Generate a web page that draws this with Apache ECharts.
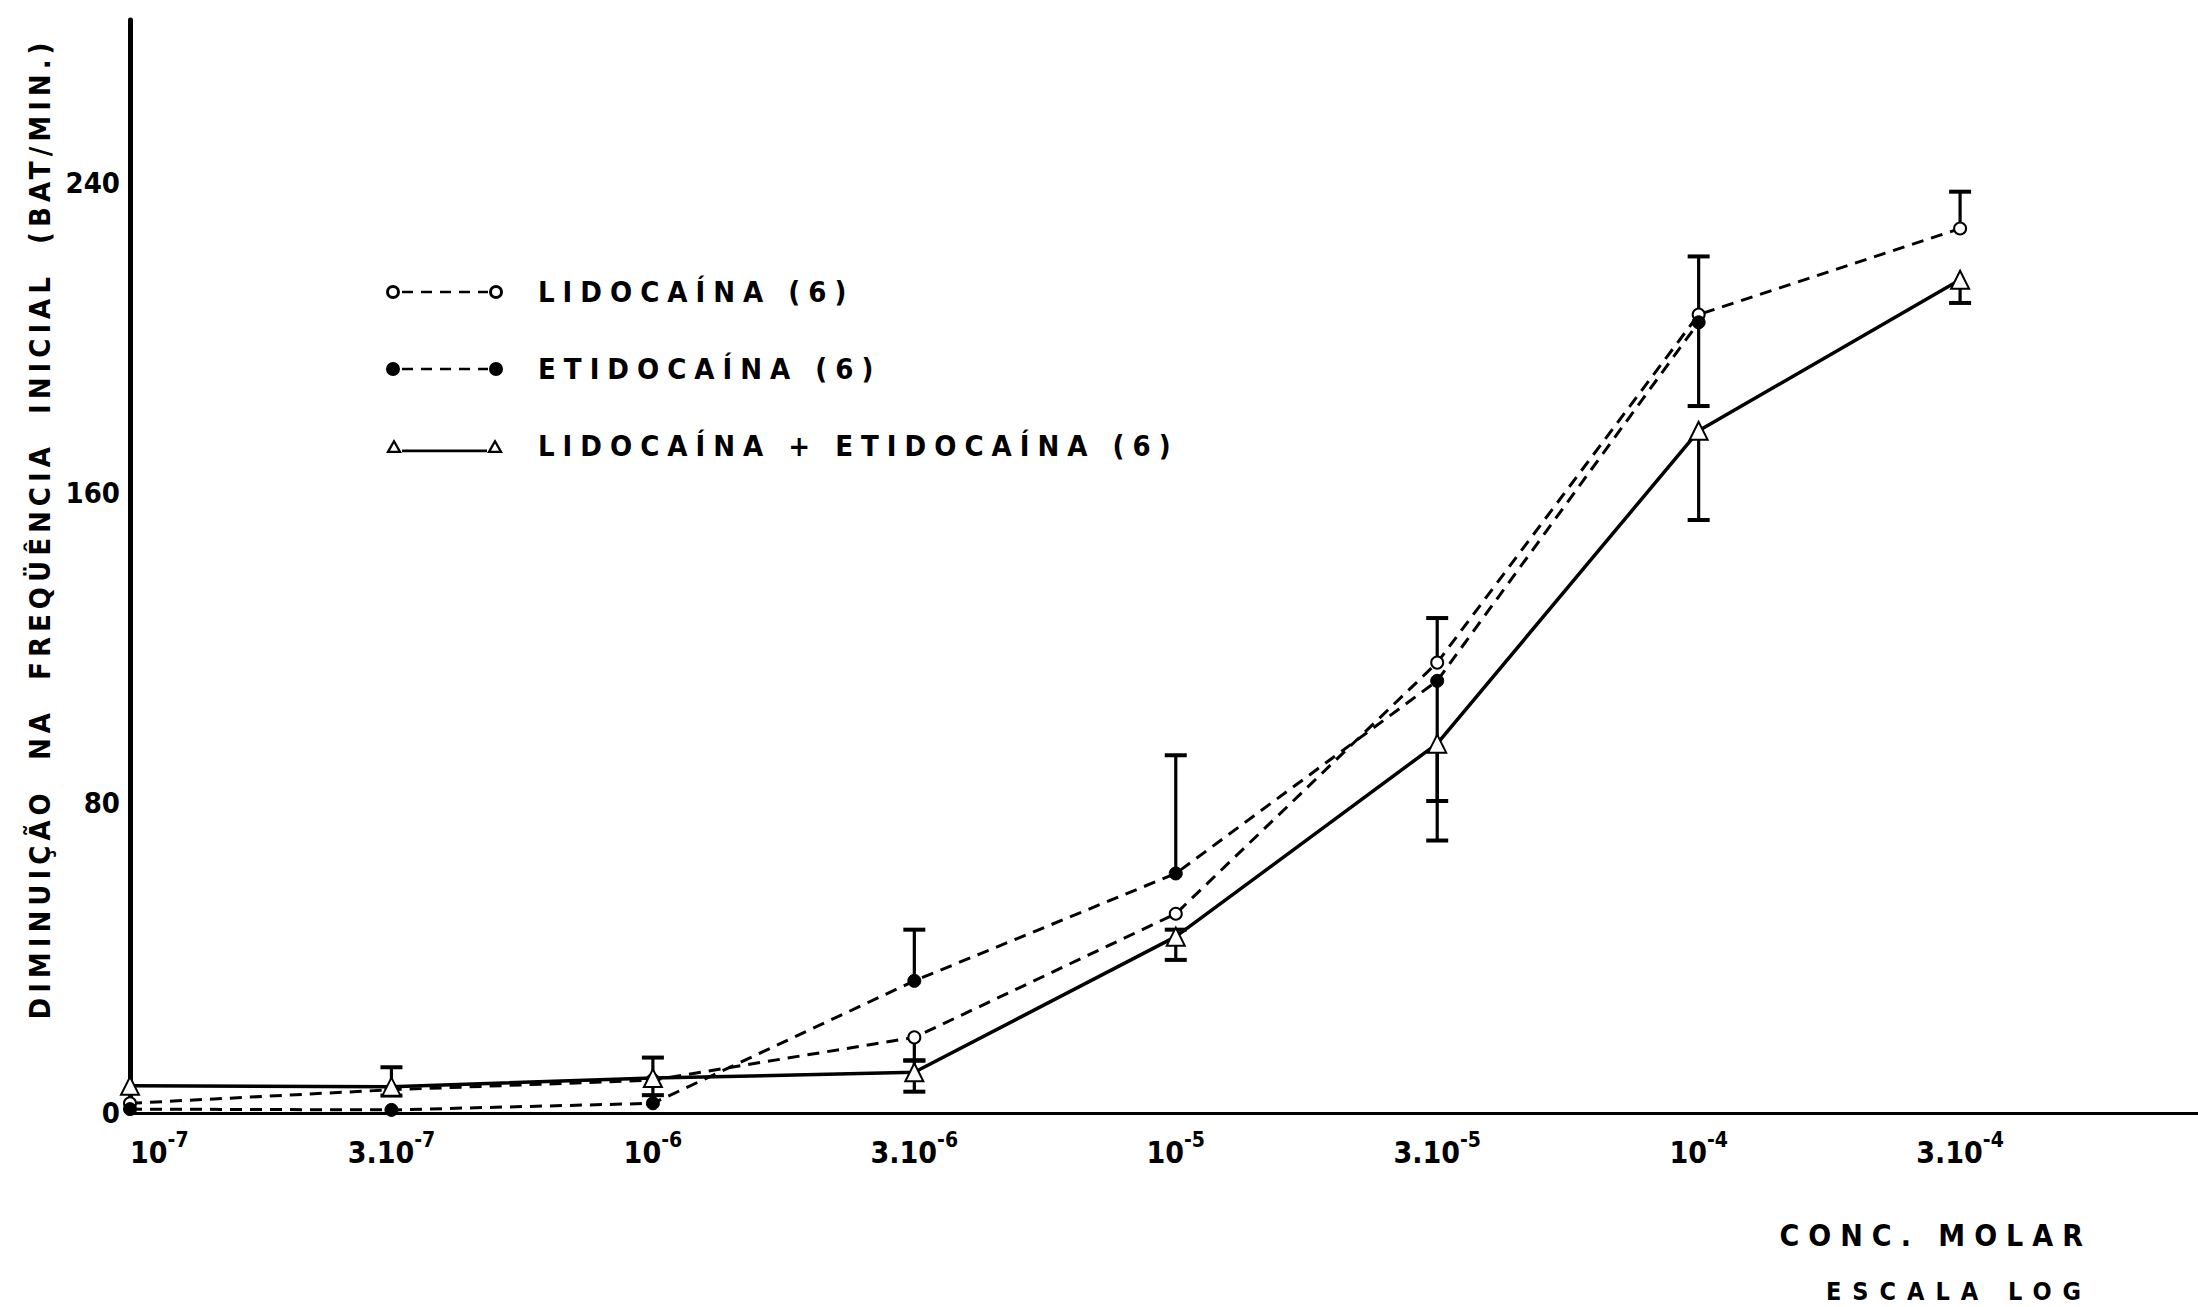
<!DOCTYPE html>
<html>
<head>
<meta charset="utf-8">
<script src="https://cdn.jsdelivr.net/npm/echarts@6/dist/echarts.min.js"></script>
<style>
html,body{margin:0;padding:0;background:#fff;}
#chart{width:2198px;height:1307px;}
</style>
</head>
<body>
<div id="chart"></div>
<script>
// ---- data ----
const tickBase = ['10', '3.10', '10', '3.10', '10', '3.10', '10', '3.10'];
const tickExp  = ['-7', '-7', '-6', '-6', '-5', '-5', '-4', '-4'];
const concIndex = [0, 1, 2, 3, 4, 5, 6, 7];   // half-decade steps on the log scale
const yTicks = [0, 80, 160, 240];

const seriesNames = ['LIDOCAÍNA (6)', 'ETIDOCAÍNA (6)', 'LIDOCAÍNA + ETIDOCAÍNA (6)'];
const lidocaina  = [2.5, 6, 8.5, 19.5, 51.4, 116.2, 206, 228.2];
const etidocaina = [1, 0.8, 2.5, 34.1, 61.8, 111.5, 204, null];
const combinacao = [7, 6.8, 9, 10.5, 45.5, 95.3, 176, 215];

// error bars (upward / downward extent) as drawn
const lidoErrUp    = [0, 0, 0, 0, 0, 11.5, 15, 9.5];
const lidoErrDown  = [0, 0, 0, 6, 0, 0, 0, 0];
const etidoErrUp   = [0, 0, 0, 13.2, 30.5, 0, 0, 0];
const etidoErrDown = [0, 0, 0, 0, 0, 31, 21.6, 0];
const comboErrUp   = [0, 5, 5.3, 3.1, 1.8, 0, 0, 0];
const comboErrDown = [0, 2.3, 4.4, 5, 6, 25, 23, 6];

// ---- build ----
const FONT = "'DejaVu Sans Condensed', 'DejaVu Sans', sans-serif";

function pts(vals) {
  return vals.map((v, i) => v == null ? null : [concIndex[i], v]).filter(d => d);
}
function bars(vals, up, down) {
  const out = [];
  vals.forEach((v, i) => {
    if (v == null) return;
    if (up[i] || down[i]) out.push([concIndex[i], v - down[i], v + up[i], up[i] > 0 ? 1 : 0, down[i] > 0 ? 1 : 0]);
  });
  return out;
}
function errorItem(params, api) {
  const x = api.value(0), lo = api.value(1), hi = api.value(2);
  const capTop = api.value(3), capBot = api.value(4);
  const pLo = api.coord([x, lo]), pHi = api.coord([x, hi]);
  const w = 11;
  const ch = [{ type: 'line', shape: { x1: pLo[0], y1: pLo[1], x2: pHi[0], y2: pHi[1] }, style: { stroke: '#000', lineWidth: 3.2 } }];
  if (capTop) ch.push({ type: 'line', shape: { x1: pHi[0] - w, y1: pHi[1], x2: pHi[0] + w, y2: pHi[1] }, style: { stroke: '#000', lineWidth: 4 } });
  if (capBot) ch.push({ type: 'line', shape: { x1: pLo[0] - w, y1: pLo[1], x2: pLo[0] + w, y2: pLo[1] }, style: { stroke: '#000', lineWidth: 4 } });
  return { type: 'group', children: ch };
}
function errSeries(vals, up, down) {
  return {
    type: 'custom', renderItem: errorItem, data: bars(vals, up, down),
    encode: { x: 0, y: [1, 2] }, z: 1, silent: true, animation: false
  };
}

// legend keys drawn like the original: marker - line - marker
const dashes = 'M16,5.8H27V8.2H16Z M35,5.8H46V8.2H35Z M54,5.8H65V8.2H54Z M73,5.8H84V8.2H73Z M92,5.8H102V8.2H92Z';
const iconLido = 'path://M0,7A7,7 0 1,1 14,7A7,7 0 1,1 0,7Z M3,7A4,4 0 1,0 11,7A4,4 0 1,0 3,7Z ' +
  'M103,7A7,7 0 1,1 117,7A7,7 0 1,1 103,7Z M106,7A4,4 0 1,0 114,7A4,4 0 1,0 106,7Z ' + dashes;
const iconEtido = 'path://M0,7A7,7 0 1,1 14,7A7,7 0 1,1 0,7Z M103,7A7,7 0 1,1 117,7A7,7 0 1,1 103,7Z ' + dashes;
const iconCombo = 'path://M0,14L8,0L16,14Z M4,11.8L12,11.8L8,4.6Z M101,14L109,0L117,14Z M105,11.8L113,11.8L109,4.6Z M16,10.6H101V13.2H16Z';

const dashed = [12, 8];
const chart = echarts.init(document.getElementById('chart'), null, { renderer: 'svg' });
const option = {
  animation: false,
  backgroundColor: '#fff',
  grid: { left: 130, right: 0, top: 20, bottom: 194, outerBoundsMode: 'none' },
  legend: {
    orient: 'vertical', left: 381, top: 272,
    itemWidth: 117, itemHeight: 14, itemGap: 47,
    itemStyle: { borderWidth: 0 },
    data: [
      { name: seriesNames[0], icon: iconLido },
      { name: seriesNames[1], icon: iconEtido },
      { name: seriesNames[2], icon: iconCombo }
    ],
    textStyle: { fontFamily: FONT, fontWeight: 'bold', fontSize: 29, color: '#000', lineHeight: 30, padding: [0, 0, 0, 30] }
  },
  xAxis: {
    type: 'value', min: 0, max: 7.91, interval: 1,
    splitLine: { show: false },
    axisTick: { show: false },
    axisLine: { show: true, onZero: false, lineStyle: { color: '#000', width: 3 } },
    axisLabel: {
      margin: 16, align: 'center', alignMinLabel: 'left',
      formatter: v => (Number.isInteger(v) && v >= 0 && v < tickBase.length) ? '{b|' + tickBase[v] + '}{e|' + tickExp[v] + '}' : '',
      rich: {
        b: { fontFamily: FONT, fontWeight: 'bold', fontSize: 30, color: '#000', lineHeight: 38, verticalAlign: 'bottom' },
        e: { fontFamily: FONT, fontWeight: 'bold', fontSize: 21, color: '#000', lineHeight: 38, verticalAlign: 'top' }
      }
    },
    name: '{a|CONC. MOLAR}\n{c|ESCALA LOG}',
    nameLocation: 'end', nameGap: -106,
    nameTextStyle: {
      align: 'right', verticalAlign: 'top', padding: [94, 0, 0, 0],
      rich: {
        a: { fontFamily: FONT, fontWeight: 'bold', fontSize: 30, color: '#000', lineHeight: 56, align: 'right' },
        c: { fontFamily: FONT, fontWeight: 'bold', fontSize: 25, color: '#000', lineHeight: 56, align: 'right' }
      }
    }
  },
  yAxis: {
    type: 'value', min: 0, max: 282, interval: 80,
    splitLine: { show: false },
    axisTick: { show: false },
    axisLine: { show: true, lineStyle: { color: '#000', width: 5 } },
    axisLabel: {
      margin: 10, fontFamily: FONT, fontWeight: 'bold', fontSize: 29, color: '#000',
      padding: [0, 0, 14, 0],
      formatter: v => yTicks.indexOf(v) >= 0 ? String(v) : ''
    },
    name: 'DIMINUIÇÃO  NA  FREQÜÊNCIA  INICIAL  (BAT/MIN.)',
    nameLocation: 'middle', nameGap: 72, nameRotate: 90,
    nameTextStyle: { fontFamily: FONT, fontWeight: 'bold', fontSize: 29, color: '#000', padding: [0, 0, 0, 76] }
  },
  series: [
    {
      name: seriesNames[0], type: 'line', data: pts(lidocaina), z: 3,
      symbol: 'emptyCircle', symbolSize: 12,
      lineStyle: { color: '#000', width: 3, type: dashed },
      itemStyle: { color: '#000', borderColor: '#000', borderWidth: 2.5 }
    },
    {
      name: seriesNames[1], type: 'line', data: pts(etidocaina), z: 3,
      symbol: 'circle', symbolSize: 13,
      lineStyle: { color: '#000', width: 3, type: dashed },
      itemStyle: { color: '#000', borderColor: '#000' }
    },
    {
      name: seriesNames[2], type: 'line', data: pts(combinacao), z: 3,
      symbol: 'emptyTriangle', symbolSize: 18,
      lineStyle: { color: '#000', width: 3.5, type: 'solid' },
      itemStyle: { color: '#000', borderColor: '#000', borderWidth: 2.5 }
    },
    errSeries(lidocaina, lidoErrUp, lidoErrDown),
    errSeries(etidocaina, etidoErrUp, etidoErrDown),
    errSeries(combinacao, comboErrUp, comboErrDown)
  ]
};
chart.setOption(option);

// wide letter spacing of the original lettering
const spacingRules = [
  [/LIDOCA|ETIDOCA/, '8px'],
  [/DIMINUI/, '5px'],
  [/CONC/, '9px'],
  [/ESCALA/, '11px']
];
function applySpacing() {
  document.querySelectorAll('#chart text').forEach(t => {
    const s = t.textContent;
    for (const [re, ls] of spacingRules) {
      if (re.test(s)) { t.style.letterSpacing = ls; break; }
    }
  });
}
applySpacing();
chart.on('finished', applySpacing);
setTimeout(applySpacing, 50);
</script>
</body>
</html>
